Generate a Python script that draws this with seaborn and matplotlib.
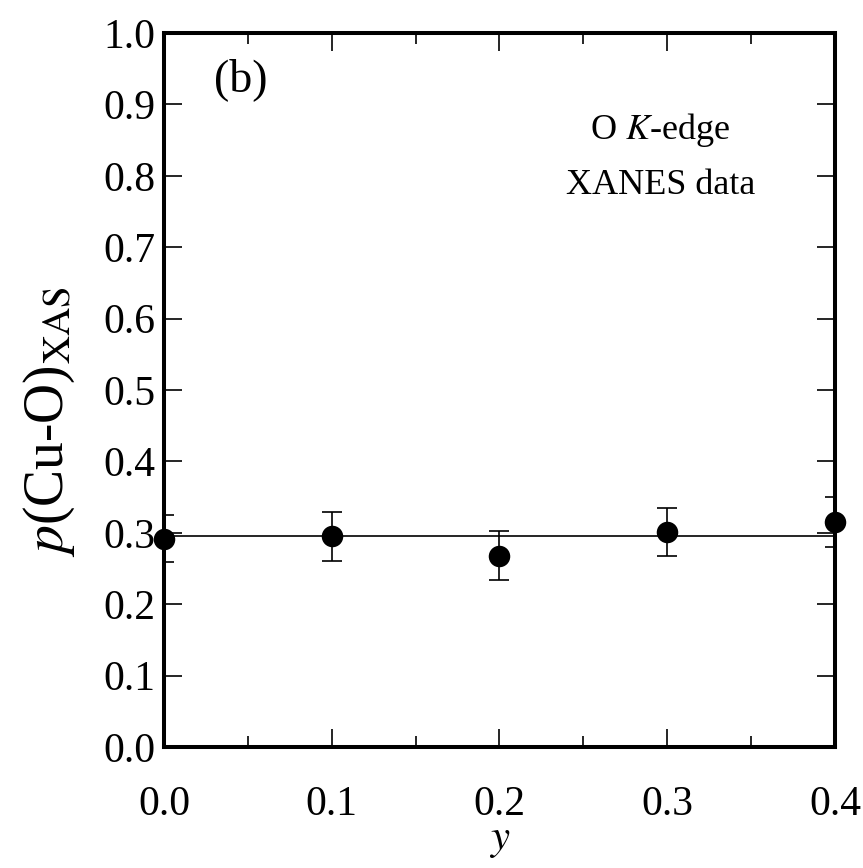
import numpy as np
import pandas as pd
import matplotlib
matplotlib.use('Agg')
import matplotlib.pyplot as plt
import seaborn as sns
from matplotlib.ticker import MultipleLocator, FormatStrFormatter

# values
y_content = [0.0, 0.1, 0.2, 0.3, 0.4]
p_cuo = [0.292, 0.295, 0.268, 0.301, 0.315]
p_err = [0.033, 0.034, 0.034, 0.034, 0.035]
fit_x = [0.0, 0.4]
fit_p = [0.295, 0.295]

df = pd.DataFrame({'y': y_content, 'p': p_cuo, 'err': p_err})
fit = pd.DataFrame({'y': fit_x, 'p': fit_p})

sns.set_style('ticks')
plt.rcParams['font.family'] = ['Liberation Serif', 'DejaVu Serif']
plt.rcParams['mathtext.fontset'] = 'stix'
plt.rcParams['text.color'] = 'black'
plt.rcParams['axes.labelcolor'] = 'black'

fig = plt.figure(figsize=(8.63, 8.68), dpi=100)
ax = fig.add_axes([0.190, 0.1394, 0.7775, 0.8226])

sns.lineplot(data=fit, x='y', y='p', color='black', linewidth=1.2, ax=ax)
ax.errorbar(df['y'], df['p'], yerr=df['err'], fmt='none', ecolor='black',
            elinewidth=1.2, capsize=7, capthick=1.2, zorder=3)
sns.scatterplot(data=df, x='y', y='p', color='black', s=240, edgecolor='black',
                linewidth=0, ax=ax, zorder=4, clip_on=False)

ax.set_xlim(0, 0.4)
ax.set_ylim(0, 1.0)
ax.xaxis.set_major_locator(MultipleLocator(0.1))
ax.xaxis.set_minor_locator(MultipleLocator(0.05))
ax.yaxis.set_major_locator(MultipleLocator(0.1))
ax.xaxis.set_major_formatter(FormatStrFormatter('%.1f'))
ax.yaxis.set_major_formatter(FormatStrFormatter('%.1f'))
ax.tick_params(which='both', direction='in', top=True, right=True,
               colors='black', labelsize=30, width=1.2)
ax.tick_params(which='major', length=13)
ax.tick_params(axis='y', which='major', pad=6)
ax.tick_params(axis='x', which='major', pad=28)
ax.tick_params(which='minor', length=8)
for sp in ax.spines.values():
    sp.set_linewidth(2.9)
    sp.set_color('black')

ax.set_xlabel('$y$', fontsize=31, labelpad=-2)
ax.set_ylabel(r'$p$(Cu-O)$_{\mathrm{XAS}}$', fontsize=40)
ax.yaxis.set_label_coords(-0.13, 0.455)

ax.text(0.075, 0.935, '(b)', transform=ax.transAxes, fontsize=33,
        ha='left', va='center')
ax.text(0.74, 0.864, 'O $K$-edge', transform=ax.transAxes, fontsize=26,
        ha='center', va='center')
ax.text(0.74, 0.787, 'XANES data', transform=ax.transAxes, fontsize=26,
        ha='center', va='center')

plt.savefig('out.png', dpi=100)
plt.close()
